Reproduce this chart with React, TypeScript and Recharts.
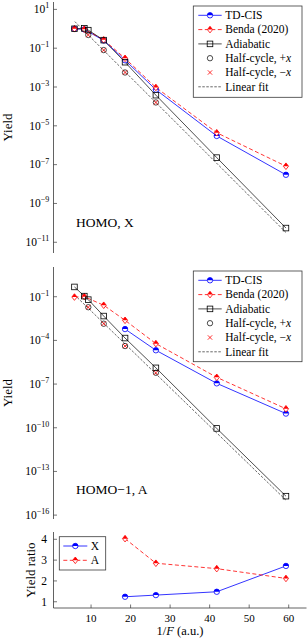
import React from 'react';
import { ComposedChart, Line, XAxis, YAxis } from 'recharts';

const FONT = '"Liberation Serif", "Times New Roman", serif';
const AXIS_COLOR = '#3a3a3a';
const BLUE = '#0000ff';
const RED = '#ff0000';
const BLACK = '#000000';
const W = 307;
const TICK_LEN = 3.5;

// ---------- shared x axis ----------
const xTicks = [10, 20, 30, 40, 50, 60];
const xDomain = [0.5, 64.5];

// ---------- Panel 1: HOMO, X ----------
const homoTdcisX = [5.8, 8.3, 13.2, 18.6, 26.4, 41.8, 59.3];
const homoTdcisY = [1.0, 0.93, 0.25, 0.024, 7.3e-4, 3.0e-6, 3.0e-8];
const homoBendaX = [5.8, 8.3, 13.2, 18.6, 26.4, 41.8, 59.3];
const homoBendaY = [1.0, 0.95, 0.27, 0.03, 9.5e-4, 4.4e-6, 8.3e-8];
const homoAdiaX = [5.8, 8.3, 9.3, 13.2, 18.6, 26.4, 41.8, 59.3];
const homoAdiaY = [1.0, 1.05, 0.85, 0.26, 0.019, 3.8e-4, 2.3e-7, 5.4e-11];
const homoHalfX = [9.3, 13.2, 18.6, 26.4];
const homoHalfPlusY = [0.48, 0.08, 0.0056, 1.6e-4];
const homoHalfMinusY = [0.48, 0.08, 0.0056, 1.6e-4];
const homoFitX = [5.9, 59.3];
const homoFitY = [2.35, 3.2e-11];
const homoYTicks = [10, 1e-1, 1e-3, 1e-5, 1e-7, 1e-9, 1e-11];
const homoYDomain = [2.8e-12, 24];

// ---------- Panel 2: HOMO-1, A ----------
const h1TdcisX = [18.6, 26.4, 41.8, 59.3];
const h1TdcisY = [6.0e-4, 2.1e-5, 1.12e-7, 9.4e-10];
const h1BendaX = [5.8, 8.3, 13.2, 18.6, 26.4, 41.8, 59.3];
const h1BendaY = [0.095, 0.1, 0.026, 0.0024, 6e-5, 2.9e-7, 2e-9];
const h1AdiaX = [5.8, 8.3, 9.3, 13.2, 18.6, 26.4, 41.8, 59.3];
const h1AdiaY = [0.47, 0.11, 0.063, 0.0047, 1.45e-4, 1.3e-6, 9e-11, 2e-15];
const h1HalfX = [9.3, 13.2, 18.6, 26.4];
const h1HalfPlusY = [0.019, 0.0014, 4.1e-5, 6e-7];
const h1HalfMinusY = [0.019, 0.0014, 4.1e-5, 6e-7];
const h1FitX = [5.8, 59.3];
const h1FitY = [0.135, 1.07e-15];
const h1YTicks = [1e-1, 1e-4, 1e-7, 1e-10, 1e-13, 1e-16];
const h1YDomain = [5.4e-17, 11];

// ---------- Panel 3: yield ratio ----------
const ratioXs = [18.6, 26.4, 41.8, 59.3];
const ratioXY = [1.24, 1.32, 1.48, 2.72];
const ratioAY = [4.03, 2.85, 2.59, 2.12];
const ratioYTicks = [1, 2, 3, 4];
const ratioYDomain = [0.7, 4.35];

const pts = (xs: number[], ys: number[]) => xs.map((x, i) => ({ x, y: ys[i] }));

const ok = (v: any) => typeof v === 'number' && isFinite(v);

// ---------- markers ----------
function HalfCircle({ cx, cy, color, r = 2.7 }: any) {
  if (!ok(cx) || !ok(cy)) return <g />;
  return (
    <g>
      <circle cx={cx} cy={cy} r={r} fill="#fff" stroke="none" />
      <path d={`M ${cx - r} ${cy} A ${r} ${r} 0 0 1 ${cx + r} ${cy} Z`} fill={color} stroke="none" />
      <circle cx={cx} cy={cy} r={r} fill="none" stroke={color} strokeWidth={0.8} />
    </g>
  );
}
function HalfDiamond({ cx, cy, color, w = 2.6, h = 3.3 }: any) {
  if (!ok(cx) || !ok(cy)) return <g />;
  return (
    <g>
      <polygon points={`${cx},${cy - h} ${cx + w},${cy} ${cx},${cy + h} ${cx - w},${cy}`} fill="#fff" stroke="none" />
      <polygon points={`${cx - w},${cy} ${cx},${cy - h} ${cx + w},${cy}`} fill={color} stroke="none" />
      <polygon points={`${cx},${cy - h} ${cx + w},${cy} ${cx},${cy + h} ${cx - w},${cy}`} fill="none" stroke={color} strokeWidth={0.8} />
    </g>
  );
}
function OpenSquare({ cx, cy, s = 2.8 }: any) {
  if (!ok(cx) || !ok(cy)) return <g />;
  return <rect x={cx - s} y={cy - s} width={2 * s} height={2 * s} fill="none" stroke={BLACK} strokeWidth={0.8} />;
}
function OpenCircle({ cx, cy, r = 2.7 }: any) {
  if (!ok(cx) || !ok(cy)) return <g />;
  return <circle cx={cx} cy={cy} r={r} fill="none" stroke={BLACK} strokeWidth={0.7} />;
}
function Cross({ cx, cy, s = 2.2 }: any) {
  if (!ok(cx) || !ok(cy)) return <g />;
  return (
    <g stroke={RED} strokeWidth={0.8}>
      <line x1={cx - s} y1={cy - s} x2={cx + s} y2={cy + s} />
      <line x1={cx - s} y1={cy + s} x2={cx + s} y2={cy - s} />
    </g>
  );
}

// ---------- ticks ----------
const fmtExp = (v: number) => {
  const e = Math.round(Math.log10(v));
  return e < 0 ? '\u2212' + Math.abs(e) : String(e);
};

const leftTick = (log: boolean) => (p: any) => {
  const { x, y, payload } = p;
  return (
    <g>
      <line x1={x} y1={y} x2={x + TICK_LEN} y2={y} stroke={AXIS_COLOR} strokeWidth={0.7} />
      {log ? (
        <text x={x - 4.3} y={y + 3.8} textAnchor="end" fontFamily={FONT} fontSize={11.5} fill="#000">
          10
          <tspan dy={-4.8} fontSize={8}>
            {fmtExp(payload.value)}
          </tspan>
        </text>
      ) : (
        <text x={x - 6.5} y={y + 3.8} textAnchor="end" fontFamily={FONT} fontSize={11.5} fill="#000">
          {payload.value}
        </text>
      )}
    </g>
  );
};
const rightTick = (p: any) => (
  <line x1={p.x} y1={p.y} x2={p.x - TICK_LEN} y2={p.y} stroke={AXIS_COLOR} strokeWidth={0.7} />
);
const topTick = (p: any) => (
  <line x1={p.x} y1={p.y} x2={p.x} y2={p.y + TICK_LEN} stroke={AXIS_COLOR} strokeWidth={0.7} />
);
const bottomTick = (show: boolean) => (p: any) => (
  <g>
    <line x1={p.x} y1={p.y} x2={p.x} y2={p.y - TICK_LEN} stroke={AXIS_COLOR} strokeWidth={0.7} />
    {show && (
      <text x={p.x} y={p.y + 13.5} textAnchor="middle" fontFamily={FONT} fontSize={11} fill="#000">
        {p.payload.value}
      </text>
    )}
  </g>
);

const axisLine = { stroke: AXIS_COLOR, strokeWidth: 0.8 };

function frameAxes(o: { log: boolean; yDomain: number[]; yTicks: number[]; showX: boolean; bottomH: number }) {
  const yScale = o.log ? 'log' : 'linear';
  return [
    <XAxis
      key="xb"
      xAxisId="b"
      type="number"
      dataKey="x"
      domain={xDomain}
      ticks={xTicks}
      allowDataOverflow
      interval={0}
      height={o.bottomH}
      tickSize={0}
      tickMargin={0}
      tickLine={false}
      axisLine={axisLine}
      tick={bottomTick(o.showX)}
    />,
    <XAxis
      key="xt"
      xAxisId="t"
      orientation="top"
      type="number"
      dataKey="x"
      domain={xDomain}
      ticks={xTicks}
      allowDataOverflow
      interval={0}
      height={0}
      tickSize={0}
      tickMargin={0}
      tickLine={false}
      axisLine={axisLine}
      tick={topTick}
    />,
    <YAxis
      key="yl"
      yAxisId="l"
      type="number"
      scale={yScale as any}
      domain={o.yDomain}
      ticks={o.yTicks}
      allowDataOverflow
      interval={0}
      width={53.5}
      tickSize={0}
      tickMargin={0}
      tickLine={false}
      axisLine={axisLine}
      tick={leftTick(o.log)}
    />,
    <YAxis
      key="yr"
      yAxisId="r"
      orientation="right"
      type="number"
      scale={yScale as any}
      domain={o.yDomain}
      ticks={o.yTicks}
      allowDataOverflow
      interval={0}
      width={0}
      tickSize={0}
      tickMargin={0}
      tickLine={false}
      axisLine={axisLine}
      tick={rightTick}
    />,
  ];
}

const common = { xAxisId: 'b', yAxisId: 'l', dataKey: 'y', isAnimationActive: false, activeDot: false as any };

function yieldSeries(
  tdX: number[], tdY: number[], bX: number[], bY: number[], aX: number[], aY: number[],
  hX: number[], hP: number[], hM: number[], fX: number[], fY: number[]
) {
  return [
    <Line key="td" {...common} data={pts(tdX, tdY)} stroke={BLUE} strokeWidth={0.8}
      dot={(p: any) => <HalfCircle key={p.index} cx={p.cx} cy={p.cy} color={BLUE} />} />,
    <Line key="bd" {...common} data={pts(bX, bY)} stroke={RED} strokeWidth={0.8} strokeDasharray="4 2.5"
      dot={(p: any) => <HalfDiamond key={p.index} cx={p.cx} cy={p.cy} color={RED} />} />,
    <Line key="ad" {...common} data={pts(aX, aY)} stroke={BLACK} strokeWidth={0.7}
      dot={(p: any) => <OpenSquare key={p.index} cx={p.cx} cy={p.cy} />} />,
    <Line key="hp" {...common} data={pts(hX, hP)} stroke="none" strokeWidth={0}
      dot={(p: any) => <OpenCircle key={p.index} cx={p.cx} cy={p.cy} />} />,
    <Line key="hm" {...common} data={pts(hX, hM)} stroke="none" strokeWidth={0}
      dot={(p: any) => <Cross key={p.index} cx={p.cx} cy={p.cy} />} />,
    <Line key="fit" {...common} data={pts(fX, fY)} stroke={BLACK} strokeWidth={0.6} strokeDasharray="2.5 1.5" dot={false} />,
  ];
}

// ---------- legends ----------
type Item = { label: React.ReactNode; kind: string };
const yieldItems: Item[] = [
  { label: 'TD-CIS', kind: 'td' },
  { label: 'Benda (2020)', kind: 'bd' },
  { label: 'Adiabatic', kind: 'ad' },
  { label: <>Half-cycle, +<tspan fontStyle="italic">x</tspan></>, kind: 'hp' },
  { label: <>Half-cycle, {'\u2212'}<tspan fontStyle="italic">x</tspan></>, kind: 'hm' },
  { label: 'Linear fit', kind: 'fit' },
];
const ratioItems: Item[] = [
  { label: 'X', kind: 'td' },
  { label: 'A', kind: 'bd' },
];

function LegendBox({ x, y, w, h, items, lx1, lx2, tx }: any) {
  return (
    <g>
      <rect x={x} y={y} width={w} height={h} fill="#fff" stroke={AXIS_COLOR} strokeWidth={0.8} />
      {items.map((it: Item, i: number) => {
        const ry = y + 9.3 + i * 14.3;
        const mx = (lx1 + lx2) / 2;
        let sample: React.ReactNode = null;
        if (it.kind === 'td')
          sample = (<g><line x1={lx1} y1={ry} x2={lx2} y2={ry} stroke={BLUE} strokeWidth={0.8} /><HalfCircle cx={mx} cy={ry} color={BLUE} /></g>);
        else if (it.kind === 'bd')
          sample = (<g><line x1={lx1} y1={ry} x2={lx2} y2={ry} stroke={RED} strokeWidth={0.8} strokeDasharray="4 2.5" /><HalfDiamond cx={mx} cy={ry} color={RED} /></g>);
        else if (it.kind === 'ad')
          sample = (<g><line x1={lx1} y1={ry} x2={lx2} y2={ry} stroke={BLACK} strokeWidth={0.7} /><OpenSquare cx={mx} cy={ry} /></g>);
        else if (it.kind === 'hp') sample = <OpenCircle cx={mx} cy={ry} />;
        else if (it.kind === 'hm') sample = <Cross cx={mx} cy={ry} />;
        else sample = <line x1={lx1} y1={ry} x2={lx2} y2={ry} stroke={BLACK} strokeWidth={0.6} strokeDasharray="2.5 1.5" />;
        return (
          <g key={i}>
            {sample}
            <text x={tx} y={ry + 3.8} fontFamily={FONT} fontSize={11.5} fill="#000">{it.label}</text>
          </g>
        );
      })}
    </g>
  );
}

export default function App() {
  return (
    <div style={{ position: 'absolute', left: 0, top: 0, width: W, height: 642, background: '#fff', overflow: 'hidden' }}>
      <div style={{ position: 'absolute', left: 0, top: 0 }}>
        <ComposedChart width={W} height={255} margin={{ top: 2, right: 0.5, bottom: 2, left: 0 }}>
          {frameAxes({ log: true, yDomain: homoYDomain, yTicks: homoYTicks, showX: false, bottomH: 0 })}
          {yieldSeries(homoTdcisX, homoTdcisY, homoBendaX, homoBendaY, homoAdiaX, homoAdiaY, homoHalfX, homoHalfPlusY, homoHalfMinusY, homoFitX, homoFitY)}
        </ComposedChart>
      </div>
      <div style={{ position: 'absolute', left: 0, top: 265 }}>
        <ComposedChart width={W} height={256} margin={{ top: 2, right: 0.5, bottom: 2, left: 0 }}>
          {frameAxes({ log: true, yDomain: h1YDomain, yTicks: h1YTicks, showX: false, bottomH: 0 })}
          {yieldSeries(h1TdcisX, h1TdcisY, h1BendaX, h1BendaY, h1AdiaX, h1AdiaY, h1HalfX, h1HalfPlusY, h1HalfMinusY, h1FitX, h1FitY)}
        </ComposedChart>
      </div>
      <div style={{ position: 'absolute', left: 0, top: 530 }}>
        <ComposedChart width={W} height={112} margin={{ top: 2, right: 0.5, bottom: 0, left: 0 }}>
          {frameAxes({ log: false, yDomain: ratioYDomain, yTicks: ratioYTicks, showX: true, bottomH: 34 })}
          <Line {...common} data={pts(ratioXs, ratioXY)} stroke={BLUE} strokeWidth={0.8}
            dot={(p: any) => <HalfCircle key={p.index} cx={p.cx} cy={p.cy} color={BLUE} />} />
          <Line {...common} data={pts(ratioXs, ratioAY)} stroke={RED} strokeWidth={0.8} strokeDasharray="4 2.5"
            dot={(p: any) => <HalfDiamond key={p.index} cx={p.cx} cy={p.cy} color={RED} />} />
        </ComposedChart>
      </div>
      <svg width={W} height={642} style={{ position: 'absolute', left: 0, top: 0, pointerEvents: 'none' }}>
        <text transform="rotate(-90 12 127.5)" x={12} y={127.5} textAnchor="middle" fontFamily={FONT} fontSize={13} fill="#000">Yield</text>
        <text transform="rotate(-90 12 393)" x={12} y={393} textAnchor="middle" fontFamily={FONT} fontSize={13} fill="#000">Yield</text>
        <text transform="rotate(-90 35 570)" x={35} y={570} textAnchor="middle" fontFamily={FONT} fontSize={13} fill="#000">Yield ratio</text>
        <text x={180} y={635} textAnchor="middle" fontFamily={FONT} fontSize={12.5} fill="#000">
          1/<tspan fontStyle="italic">F</tspan> (a.u.)
        </text>
        <text x={76} y={226.7} fontFamily={FONT} fontSize={13.5} fill="#000">HOMO, X</text>
        <text x={76} y={494.3} fontFamily={FONT} fontSize={13.5} fill="#000">HOMO{'\u2212'}1, A</text>
        <LegendBox x={193.3} y={6} w={108.7} h={91.3} items={yieldItems} lx1={198.3} lx2={221.7} tx={225.3} />
        <LegendBox x={193.3} y={271} w={108.7} h={90.7} items={yieldItems} lx1={198.3} lx2={221.7} tx={225.3} />
        <LegendBox x={59.3} y={536.7} w={46.4} h={33.3} items={ratioItems} lx1={63.3} lx2={87.3} tx={90.7} />
      </svg>
    </div>
  );
}
